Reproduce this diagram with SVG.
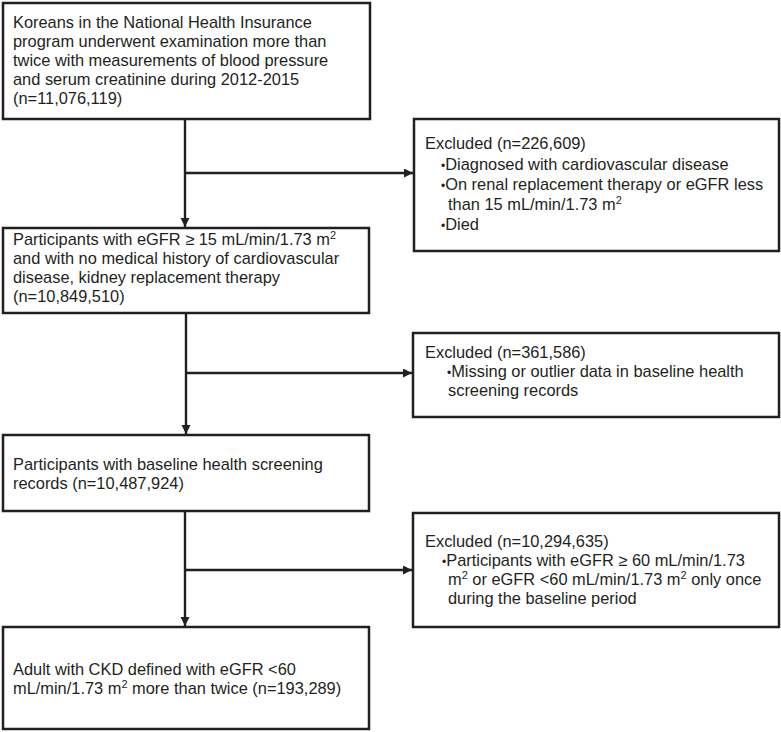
<svg xmlns="http://www.w3.org/2000/svg" width="781" height="732" viewBox="0 0 781 732">
<style>
.box{fill:#fff;stroke:#231f20;stroke-width:2.5}
.t{font-family:"Liberation Sans",Arial,sans-serif;font-size:16.4px;fill:#231f20}
.sup{font-size:11px}
.b{font-size:12px}
.c{stroke:#231f20;stroke-width:2.4;fill:none}
</style>
<defs>
<marker id="ah" markerUnits="userSpaceOnUse" markerWidth="10" markerHeight="10" refX="9" refY="4.5" orient="auto">
<path d="M0,0 L9,4.5 L0,9 z" fill="#231f20"/>
</marker>
</defs>
<rect width="781" height="732" fill="#fff"/>
<g id="connectors">
<line class="c" x1="185" y1="120" x2="185" y2="227" marker-end="url(#ah)"/>
<line class="c" x1="185" y1="173" x2="413" y2="173" marker-end="url(#ah)"/>
<line class="c" x1="186" y1="314" x2="186" y2="434" marker-end="url(#ah)"/>
<line class="c" x1="186" y1="373" x2="412" y2="373" marker-end="url(#ah)"/>
<line class="c" x1="185" y1="512" x2="185" y2="626" marker-end="url(#ah)"/>
<line class="c" x1="185" y1="570" x2="412" y2="570" marker-end="url(#ah)"/>
</g>
<g id="n1">
<rect class="box" x="3" y="3" width="367" height="116"/>
<text class="t" x="13" y="28">Koreans in the National Health Insurance</text>
<text class="t" x="13" y="47">program underwent examination more than</text>
<text class="t" x="13" y="66">twice with measurements of blood pressure</text>
<text class="t" x="13" y="85">and serum creatinine during 2012-2015</text>
<text class="t" x="13" y="104">(n=11,076,119)</text>
</g>
<g id="e1">
<rect class="box" x="414" y="119" width="365" height="132"/>
<text class="t" x="425" y="149">Excluded (n=226,609)</text>
<text class="t" x="441" y="170"><tspan class="b">•</tspan>Diagnosed with cardiovascular disease</text>
<text class="t" x="441" y="190"><tspan class="b">•</tspan>On renal replacement therapy or eGFR less</text>
<text class="t" x="448" y="210">than 15 mL/min/1.73 m<tspan class="sup" dy="-6">2</tspan></text>
<text class="t" x="441" y="230"><tspan class="b">•</tspan>Died</text>
</g>
<g id="n2">
<rect class="box" x="3" y="228" width="366" height="85"/>
<text class="t" x="13" y="245">Participants with eGFR ≥ 15 mL/min/1.73 m<tspan class="sup" dy="-6">2</tspan></text>
<text class="t" x="13" y="264">and with no medical history of cardiovascular</text>
<text class="t" x="13" y="283">disease, kidney replacement therapy</text>
<text class="t" x="13" y="302">(n=10,849,510)</text>
</g>
<g id="e2">
<rect class="box" x="413" y="333" width="366" height="84"/>
<text class="t" x="425" y="358">Excluded (n=361,586)</text>
<text class="t" x="447" y="377"><tspan class="b">•</tspan>Missing or outlier data in baseline health</text>
<text class="t" x="448" y="396">screening records</text>
</g>
<g id="n3">
<rect class="box" x="3" y="435" width="366" height="76"/>
<text class="t" x="13" y="470">Participants with baseline health screening</text>
<text class="t" x="13" y="489">records (n=10,487,924)</text>
</g>
<g id="e3">
<rect class="box" x="413" y="513" width="366" height="114"/>
<text class="t" x="425" y="547">Excluded (n=10,294,635)</text>
<text class="t" x="442" y="566"><tspan class="b">•</tspan>Participants with eGFR ≥ 60 mL/min/1.73</text>
<text class="t" x="448" y="585">m<tspan class="sup" dy="-6">2</tspan><tspan dy="6"> or eGFR &lt;60 mL/min/1.73 m</tspan><tspan class="sup" dy="-6">2</tspan><tspan dy="6"> only once</tspan></text>
<text class="t" x="448" y="604">during the baseline period</text>
</g>
<g id="n4">
<rect class="box" x="3" y="627" width="366" height="102"/>
<text class="t" x="13" y="675">Adult with CKD defined with eGFR &lt;60</text>
<text class="t" x="13" y="694">mL/min/1.73 m<tspan class="sup" dy="-6">2</tspan><tspan dy="6"> more than twice (n=193,289)</tspan></text>
</g>
</svg>
